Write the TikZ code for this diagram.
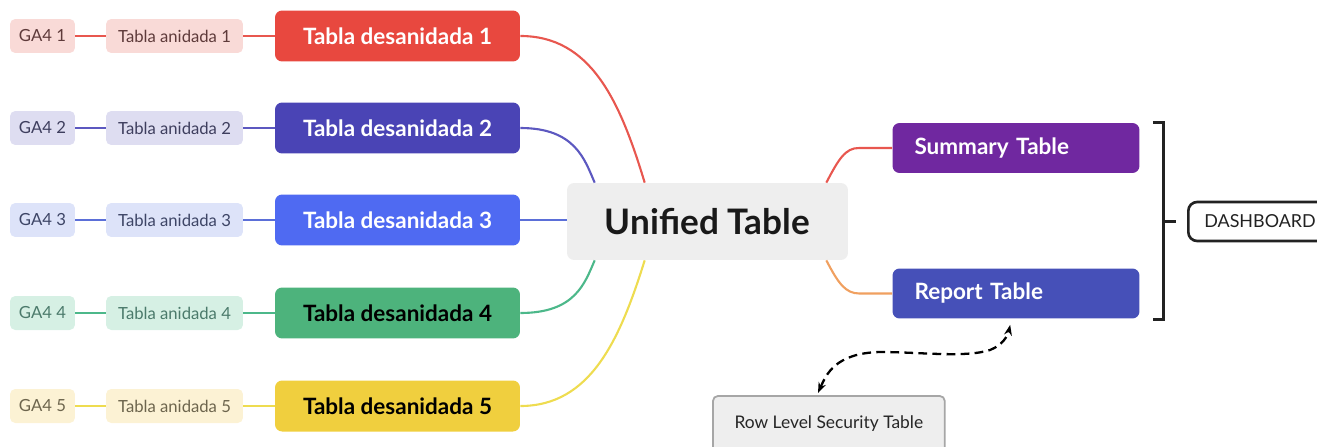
\documentclass[tikz,border=0pt]{standalone}
\usepackage{fontspec}
\setmainfont{Lato}
\usetikzlibrary{calc,arrows.meta}
\definecolor{rA}{HTML}{E8483F}\definecolor{rAl}{HTML}{F9DAD7}\definecolor{rAt}{HTML}{5E3A3A}\definecolor{rAc}{HTML}{E8574F}
\definecolor{rB}{HTML}{4A44B5}\definecolor{rBl}{HTML}{DEDDF1}\definecolor{rBt}{HTML}{3E3E5E}\definecolor{rBc}{HTML}{5C58C0}
\definecolor{rC}{HTML}{4F6AF2}\definecolor{rCl}{HTML}{DDE3F9}\definecolor{rCt}{HTML}{3D4566}\definecolor{rCc}{HTML}{5B6FD8}
\definecolor{rD}{HTML}{4DB37C}\definecolor{rDl}{HTML}{D6F0E4}\definecolor{rDt}{HTML}{4B7A6B}\definecolor{rDc}{HTML}{4CB88A}
\definecolor{rE}{HTML}{F0CF3E}\definecolor{rEl}{HTML}{FCF2D4}\definecolor{rEt}{HTML}{6D654D}\definecolor{rEc}{HTML}{EEDC50}
\definecolor{uni}{HTML}{EEEEEE}
\definecolor{summ}{HTML}{7028A0}
\definecolor{rep}{HTML}{4650B8}
\definecolor{orng}{HTML}{F0A060}
\definecolor{brk}{HTML}{222222}
\begin{document}
\begin{tikzpicture}[x=0.02cm,y=-0.02cm,
  ga/.style={rounded corners=3pt,minimum width=1.3cm,minimum height=0.68cm,inner sep=0pt,font=\fontsize{9.5}{11}\selectfont},
  an/.style={rounded corners=3pt,minimum width=2.74cm,minimum height=0.68cm,inner sep=0pt,font=\fontsize{9.5}{11}\selectfont},
  de/.style={rounded corners=4pt,minimum width=4.9cm,minimum height=1.02cm,inner sep=0pt,font=\bfseries\fontsize{12.8}{15}\selectfont},
  rt/.style={rounded corners=4pt,minimum height=1.0cm,inner ysep=0pt,inner xsep=0.44cm,text width=4.06cm,align=left,text=white,font=\bfseries\fontsize{12.8}{15}\selectfont},
  conn/.style={line width=1.2pt}]
\useasboundingbox (0,0) rectangle (1317,446);
\clip (0,0) rectangle (1317,446);
% rows
\foreach \n/\y/\c/\tc in {1/36/rA/white,2/128/rB/white,3/220/rC/white,4/313/rD/black,5/406/rE/black}{
  \node[ga,fill=\c l,text=\c t] (g\n) at (42.5,\y) {GA4 \n};
  \node[an,fill=\c l,text=\c t] (a\n) at (174.5,\y) {Tabla anidada \n};
  \node[de,fill=\c,text=\tc] (d\n) at (397.5,\y) {Tabla desanidada \n};
  \draw[conn,\c c] (g\n) -- (a\n);
  \draw[conn,\c c] (a\n) -- (d\n);
}
% unified
\node[rounded corners=4pt,fill=uni,minimum width=5.62cm,minimum height=1.54cm,inner sep=0pt,font=\bfseries\fontsize{20}{24}\selectfont,text=black!90] (u) at (707.5,221.5) {Unified Table};
\coordinate (u1) at ($(u.north west)+(78,0)$);
\coordinate (u2) at ($(u.north west)+(28,0)$);
\coordinate (u4) at ($(u.south west)+(28,0)$);
\coordinate (u5) at ($(u.south west)+(78,0)$);
\coordinate (ur1) at ($(u.north east)+(-22,0)$);
\coordinate (ur2) at ($(u.south east)+(-22,0)$);
\draw[conn,rAc] (d1.east) .. controls ($(d1.east)+(70,0)$) and ($(u1)+(-25,-83)$) .. (u1);
\draw[conn,rBc] (d2.east) .. controls ($(d2.east)+(55,0)$) and ($(u2)+(-10,-23)$) .. (u2);
\draw[conn,rCc] (d3.east) -- (u.west |- d3.east);
\draw[conn,rDc] (d4.east) .. controls ($(d4.east)+(55,0)$) and ($(u4)+(-10,23)$) .. (u4);
\draw[conn,rEc] (d5.east) .. controls ($(d5.east)+(70,0)$) and ($(u5)+(-25,80)$) .. (u5);
% right side
\node[rt,fill=summ] (s) at (1016,148) {Summary Table};
\node[rt,fill=rep] (r) at (1016,293.5) {Report Table};
\draw[conn,rAc] (ur1) .. controls ($(ur1)+(12,-23)$) and ($(ur1)+(19,-35)$) .. ($(s.west)+(-33,0)$) -- (s.west);
\draw[conn,orng] (ur2) .. controls ($(ur2)+(12,23)$) and ($(ur2)+(19,33)$) .. ($(r.west)+(-33,0)$) -- (r.west);
% bracket
\coordinate (b1) at ($(s.north east)+(13,0)$);
\coordinate (b2) at ($(r.south east)+(13,1)$);
\draw[line width=1.6pt,brk] (b1) -- ++(11,0) coordinate (b1r) -- (b1r |- b2) coordinate (b2r) -- (b2);
\coordinate (bm) at ($(b1r)!0.5!(b2r)$);
\node[draw=brk,line width=1.5pt,rounded corners=5pt,minimum height=0.78cm,inner ysep=0pt,inner xsep=0.32cm,text width=2.6cm,align=left,anchor=west,font=\fontsize{10.2}{12}\selectfont,text=brk] (dash) at (1187,221.5) {DASHBOARD};
\draw[line width=1.6pt,brk] (bm) -- ($(bm)+(12,0)$);
% row level security
\node[draw=gray!70,line width=1pt,fill=uni,rounded corners=3pt,minimum width=4.64cm,minimum height=1.3cm,inner sep=0pt,anchor=north west,font=\fontsize{9.9}{12}\selectfont,text=black!85] (rls) at (712,395) {\raisebox{0.27cm}{Row Level Security Table}};
\coordinate (rt) at ($(r.south west)+(118,6)$);
\draw[line width=1.3pt,dashed,dash pattern=on 5pt off 3pt,{Stealth[length=6pt]}-{Stealth[length=6pt]}]
  ($(rls.north west)+(106,-2)$) .. controls (826,375) and (835,353) .. (880,352)
  .. controls (920,352) and (965,358) .. (990,350)
  .. controls (1003,345) and (1008,335) .. (rt);
\end{tikzpicture}
\end{document}
